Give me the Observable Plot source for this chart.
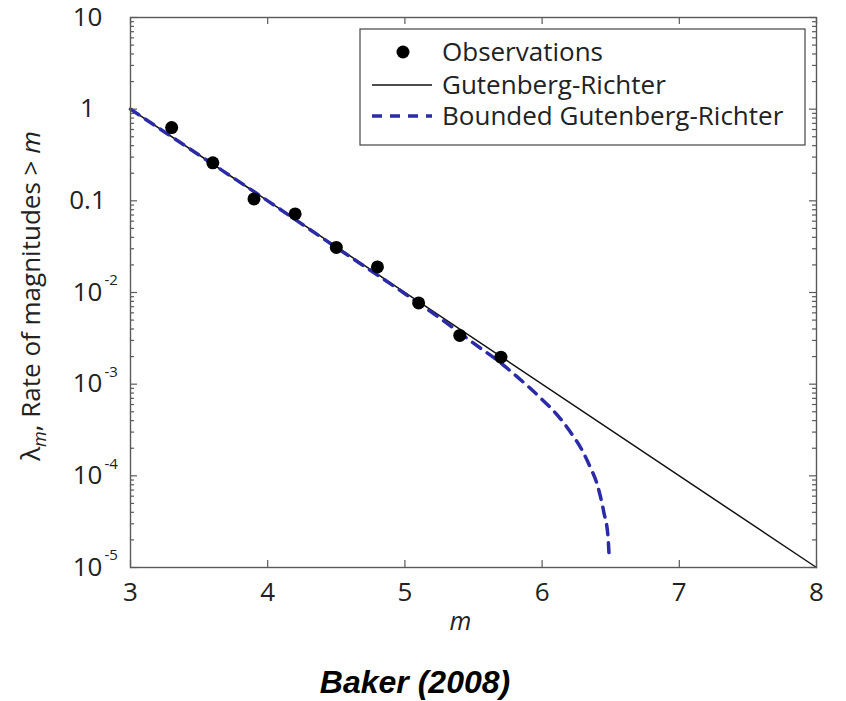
<!DOCTYPE html>
<html><head><meta charset="utf-8">
<script src="https://cdn.jsdelivr.net/npm/d3@7"></script>
<script src="https://cdn.jsdelivr.net/npm/@observablehq/plot@0.6"></script>
<style>
body{margin:0;background:#fff;}
#wrap{position:relative;width:846px;height:701px;overflow:hidden;}
#caption{position:absolute;left:0;width:830px;top:666px;text-align:center;font:italic bold 32px "Liberation Sans",Arial,sans-serif;line-height:32px;color:#000;}
</style></head><body>
<div id="wrap"><div id="chart"></div><div id="caption">Baker (2008)</div></div>
<script>
// ---- data ----
const obsM    = [3.3, 3.6, 3.9, 4.2, 4.5, 4.8, 5.1, 5.4, 5.7];
const obsRate = [0.63, 0.26, 0.105, 0.072, 0.031, 0.019, 0.0077, 0.0034, 0.00197];

const grM    = [3, 8];
const grRate = [1, 1e-5];

const bgrM    = [3, 3.5, 4, 4.5, 5, 5.3, 5.5, 5.7, 5.8, 5.9, 6.0, 6.1, 6.2, 6.3, 6.35, 6.4, 6.45, 6.48, 6.49];
const bgrRate = [1, 0.316, 0.1, 0.031, 0.0097, 0.0047, 0.0028, 0.0017, 0.00127, 0.00094, 0.00068, 0.00048, 0.00031, 0.00018, 0.000125, 0.000082, 0.00004, 0.000022, 0.000012];

const xTicks = [3, 4, 5, 6, 7, 8];
const yTicks = [10, 1, 0.1, 0.01, 0.001, 1e-4, 1e-5];
const yTickBase = ["10", "1", "0.1", "10", "10", "10", "10"];
const yTickExp  = ["", "", "", "-2", "-3", "-4", "-5"];

const seriesNames = ["Observations", "Gutenberg-Richter", "Bounded Gutenberg-Richter"];
const xLabel = "m";

// ---- tables ----
const obs = obsM.map((m, i) => ({m, r: obsRate[i]}));
const gr  = grM.map((m, i) => ({m, r: grRate[i]}));
const bgr = bgrM.map((m, i) => ({m, r: bgrRate[i]}));
const yLab = yTicks.map((v, i) => ({v, base: yTickBase[i], exp: yTickExp[i]}));
const minorY = d3.scaleLog().domain([1e-5, 10]).ticks().filter(v => !yTicks.some(t => Math.abs(Math.log10(v) - Math.log10(t)) < 1e-9));

const W = 846, H = 650, mT = 17, mB = 83, mL = 130, mR = 30;
const pw = W - mL - mR, ph = H - mT - mB;
const FONT = "Open Sans";
const BLUE = "#2b2ba6";
const FRAME = "#5a5a5a";

const chart = Plot.plot({
  width: W, height: H,
  marginTop: mT, marginBottom: mB, marginLeft: mL, marginRight: mR,
  style: {fontFamily: FONT, background: "#fff", color: "#222"},
  x: {domain: [3, 8], axis: null},
  y: {type: "log", domain: [1e-5, 10], axis: null},
  marks: [
    // ticks (inward, MATLAB style)
    Plot.tickX(xTicks, {x: d => d, insetTop: ph - 7, stroke: FRAME, strokeWidth: 1.2}),
    Plot.tickX(xTicks, {x: d => d, insetBottom: ph - 7, stroke: FRAME, strokeWidth: 1.2}),
    Plot.tickY(yTicks, {y: d => d, insetRight: pw - 7, stroke: FRAME, strokeWidth: 1.2}),
    Plot.tickY(yTicks, {y: d => d, insetLeft: pw - 7, stroke: FRAME, strokeWidth: 1.2}),
    Plot.tickY(minorY, {y: d => d, insetRight: pw - 4, stroke: FRAME, strokeWidth: 1.2}),
    Plot.tickY(minorY, {y: d => d, insetLeft: pw - 4, stroke: FRAME, strokeWidth: 1.2}),
    // series
    Plot.line(gr, {x: "m", y: "r", stroke: "#111", strokeWidth: 1.5}),
    Plot.line(bgr, {x: "m", y: "r", stroke: BLUE, strokeWidth: 3.5, strokeDasharray: "10,8", curve: "monotone-x"}),
    Plot.dot(obs, {x: "m", y: "r", r: 6.5, fill: "#000", stroke: "none"}),
    Plot.frame({stroke: FRAME, strokeWidth: 1.4}),
    // tick labels
    Plot.text(xTicks, {x: d => d, text: d => String(d), frameAnchor: "bottom", lineAnchor: "middle", dy: 25, fontSize: 26, fill: "#222"}),
    Plot.text(yLab, {y: "v", text: "base", frameAnchor: "left", lineAnchor: "middle", dx: -43, textAnchor: "middle", fontSize: 26, fill: "#222"}),
    Plot.text(yLab.filter(d => d.exp), {y: "v", text: "exp", frameAnchor: "left", lineAnchor: "middle", dx: -26, dy: -12, textAnchor: "start", fontSize: 15, fill: "#222"}),
    // x label
    Plot.text([xLabel], {text: d => d, frameAnchor: "bottom", lineAnchor: "middle", dx: -13, dy: 54, fontSize: 25, fontStyle: "italic", fill: "#222"})
  ]
});
document.getElementById("chart").appendChild(chart);

const svg = d3.select(chart);
// y-axis label with subscript
const yl = svg.append("text")
  .attr("transform", "translate(40,296) rotate(-90)")
  .attr("text-anchor", "middle")
  .attr("font-family", FONT).attr("font-size", 26).attr("fill", "#222");
yl.append("tspan").text("λ");
yl.append("tspan").attr("font-style", "italic").attr("font-size", 18).attr("dy", 6).text("m");
yl.append("tspan").attr("dy", -6).text(", Rate of magnitudes > ");
yl.append("tspan").attr("font-style", "italic").text("m");

// legend
const lg = svg.append("g").attr("font-family", FONT).attr("font-size", 26).attr("fill", "#222").attr("text-anchor", "start");
lg.append("rect").attr("x", 360).attr("y", 29).attr("width", 445).attr("height", 116)
  .attr("fill", "#fff").attr("stroke", "#444").attr("stroke-width", 1.2);
const rowsY = [52, 85, 116];
lg.append("circle").attr("cx", 403).attr("cy", rowsY[0]).attr("r", 6.5).attr("fill", "#000");
lg.append("line").attr("x1", 372).attr("x2", 432).attr("y1", rowsY[1]).attr("y2", rowsY[1]).attr("stroke", "#111").attr("stroke-width", 1.5);
lg.append("line").attr("x1", 372).attr("x2", 432).attr("y1", rowsY[2]).attr("y2", rowsY[2]).attr("stroke", BLUE).attr("stroke-width", 3.5).attr("stroke-dasharray", "10,8");
seriesNames.forEach((s, i) => {
  lg.append("text").attr("x", 442).attr("y", rowsY[i]).attr("dy", "0.35em").attr("text-anchor", "start").text(s);
});
</script>
</body></html>
